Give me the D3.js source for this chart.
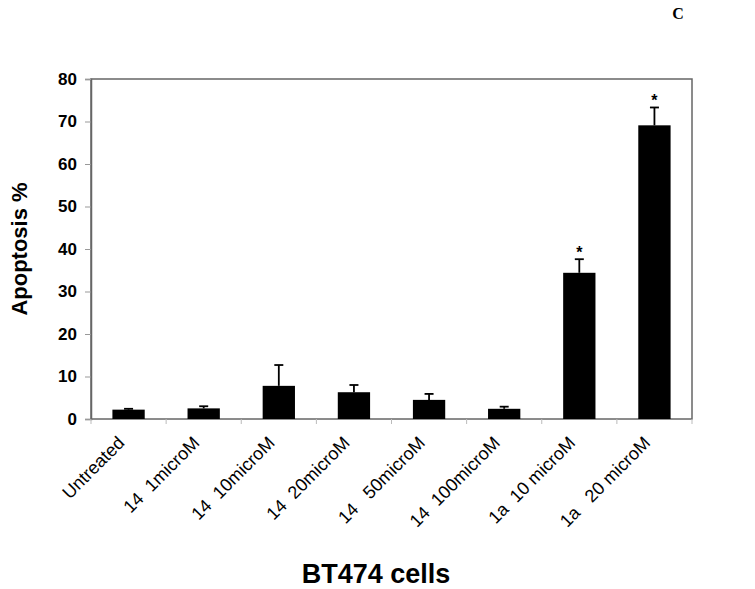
<!DOCTYPE html>
<html lang="en">
<head>
<meta charset="utf-8">
<script src="https://d3js.org/d3.v7.min.js"></script>
<style>
  body { margin: 0; background: #fff; }
  text { font-family: "Liberation Sans", Arial, sans-serif; }
</style>
</head>
<body>
<div id="chart"></div>
<script>
// values
var categories = ["Untreated", "14  1microM", "14  10microM", "14  20microM",
                  "14   50microM", "14  100microM", "1a  10 microM", "1a   20 microM"];
var apoptosis = [2.2, 2.5, 7.8, 6.3, 4.5, 2.4, 34.4, 69.1];
var errors    = [0.2, 0.5, 4.9, 1.7, 1.4, 0.5, 3.2, 4.2];
var starred   = [false, false, false, false, false, false, true, true];
var yTicks    = [0, 10, 20, 30, 40, 50, 60, 70, 80];

var rows = categories.map(function(c, i) {
    return {name: c, value: apoptosis[i], err: errors[i], star: starred[i]};
});

var width = 755, height = 589;
var margin = {top: 79, right: 63, bottom: 170, left: 91};

var svg = d3.select("#chart").append("svg")
    .attr("width", width)
    .attr("height", height);

var x = d3.scaleBand()
    .domain(categories)
    .range([margin.left, width - margin.right])
    .paddingInner(0.57)
    .paddingOuter(0.285);

var y = d3.scaleLinear()
    .domain([0, 80])
    .range([height - margin.bottom, margin.top]);

var axisColor = "#666";

// plot frame
svg.append("rect")
    .attr("x", margin.left)
    .attr("y", margin.top)
    .attr("width", width - margin.right - margin.left)
    .attr("height", y(0) - margin.top)
    .attr("fill", "none")
    .attr("stroke", axisColor)
    .attr("stroke-width", 1.5);

// y axis
var yAxis = svg.append("g")
    .attr("transform", "translate(" + margin.left + ",0)")
    .call(d3.axisLeft(y).tickValues(yTicks).tickSize(6).tickPadding(8));
yAxis.select(".domain").attr("stroke", axisColor).attr("stroke-width", 1.5);
yAxis.selectAll(".tick line").attr("stroke", "#999");
yAxis.selectAll(".tick text")
    .attr("font-size", 17)
    .attr("font-weight", "bold")
    .attr("fill", "#000")
    .style("font-family", "Liberation Sans, Arial, sans-serif");

// category boundary ticks on x axis
var step = x.step();
svg.append("g").selectAll("line")
    .data(d3.range(categories.length + 1))
    .join("line")
    .attr("x1", function(i) { return margin.left + i * step; })
    .attr("x2", function(i) { return margin.left + i * step; })
    .attr("y1", y(0))
    .attr("y2", y(0) + 5)
    .attr("stroke", "#bbb");

// bars
svg.append("g").selectAll("rect")
    .data(rows)
    .join("rect")
    .attr("x", function(d) { return x(d.name); })
    .attr("y", function(d) { return y(d.value); })
    .attr("width", x.bandwidth())
    .attr("height", function(d) { return y(0) - y(d.value); })
    .attr("fill", "#000");

// error bars (upper only)
var eb = svg.append("g").selectAll("g")
    .data(rows)
    .join("g")
    .attr("transform", function(d) {
        return "translate(" + (x(d.name) + x.bandwidth() / 2) + ",0)";
    });
eb.append("line")
    .attr("y1", function(d) { return y(d.value); })
    .attr("y2", function(d) { return y(d.value + d.err); })
    .attr("stroke", "#000")
    .attr("stroke-width", 1.8);
eb.append("line")
    .attr("x1", -4.5).attr("x2", 4.5)
    .attr("y1", function(d) { return y(d.value + d.err); })
    .attr("y2", function(d) { return y(d.value + d.err); })
    .attr("stroke", "#000")
    .attr("stroke-width", 1.8);
eb.filter(function(d) { return d.star; })
    .append("text")
    .attr("y", function(d) { return y(d.value + d.err) - 1; })
    .attr("text-anchor", "middle")
    .attr("font-size", 16)
    .attr("font-weight", "bold")
    .text("*");

// x tick labels
svg.append("g").selectAll("text")
    .data(categories)
    .join("text")
    .attr("transform", function(d) {
        return "translate(" + (x(d) + x.bandwidth() / 2 - 3) + "," + (y(0) + 25) + ") rotate(-45)";
    })
    .attr("text-anchor", "end")
    .attr("font-size", 18)
    .attr("fill", "#000")
    .style("white-space", "pre")
    .text(function(d) { return d; });

// axis titles
svg.append("text")
    .attr("transform", "translate(27," + ((margin.top + y(0)) / 2) + ") rotate(-90)")
    .attr("text-anchor", "middle")
    .attr("font-size", 22)
    .attr("font-weight", "bold")
    .text("Apoptosis %");

svg.append("text")
    .attr("x", 376)
    .attr("y", 583)
    .attr("text-anchor", "middle")
    .attr("font-size", 27)
    .attr("font-weight", "bold")
    .text("BT474 cells");

svg.append("text")
    .attr("x", 678)
    .attr("y", 19)
    .attr("text-anchor", "middle")
    .attr("font-size", 16)
    .attr("font-weight", "bold")
    .style("font-family", "Liberation Serif, Times New Roman, serif")
    .text("C");
</script>
</body>
</html>
